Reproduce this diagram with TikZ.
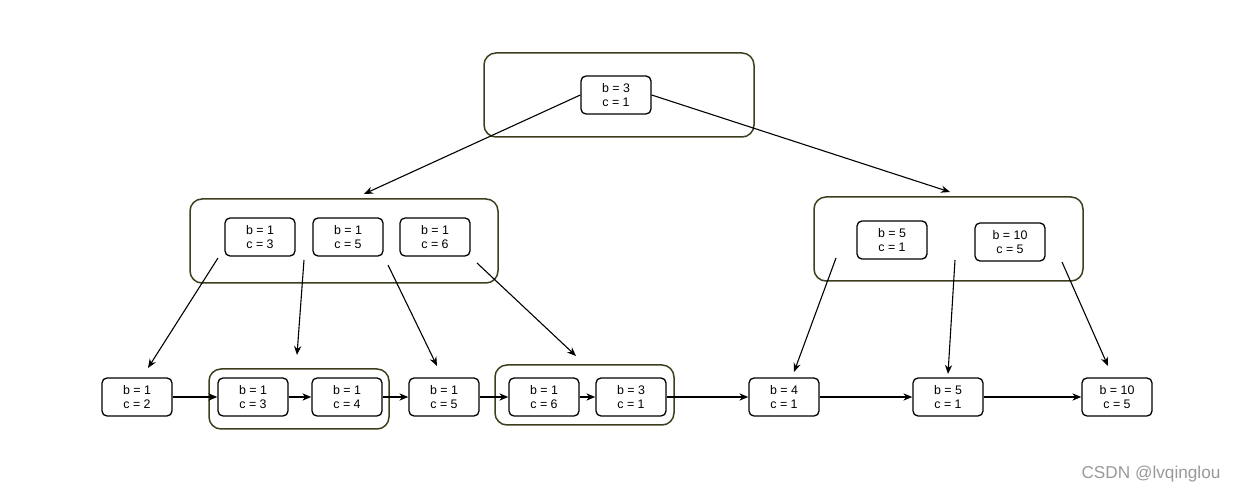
\documentclass[tikz,border=0pt]{standalone}
\usepackage{fontspec}
\setmainfont{Liberation Sans}
\usetikzlibrary{arrows.meta}
\definecolor{boxline}{RGB}{62,62,30}
\tikzset{
  key/.style={draw, line width=0.65pt, rounded corners=2.5pt, minimum width=35pt, minimum height=19pt,
    align=center, inner sep=0pt, font=\fontsize{6.2}{7.4}\selectfont},
  group/.style={draw=boxline, line width=0.75pt, rounded corners=6pt, inner sep=0pt},
  link/.style={-{Stealth[length=4.5pt,width=3.6pt]}, line width=0.55pt}
}
\begin{document}
\begin{tikzpicture}[x=0.5pt,y=-0.5pt]
\useasboundingbox (0,0) rectangle (1238,491);
% groups
\node[group, minimum width=135pt, minimum height=42pt] (top) at (619,95) {};
\node[group, minimum width=154pt, minimum height=42pt] (midL) at (344,241) {};
\node[group, minimum width=134.5pt, minimum height=42pt] (midR) at (948.5,239) {};
\node[group, minimum width=90pt, minimum height=30pt] (grpA) at (299,399) {};
\node[group, minimum width=89.5pt, minimum height=30pt] (grpB) at (584.5,395) {};
% keys
\node[key] (r) at (616,95) {b = 3\\c = 1};
\node[key] (l1) at (260,237) {b = 1\\c = 3};
\node[key] (l2) at (348,237) {b = 1\\c = 5};
\node[key] (l3) at (435,237) {b = 1\\c = 6};
\node[key] (m1) at (892,240) {b = 5\\c = 1};
\node[key] (m2) at (1010,242) {b = 10\\c = 5};
\node[key] (d1) at (137,397) {b = 1\\c = 2};
\node[key] (d2) at (253,397) {b = 1\\c = 3};
\node[key] (d3) at (347,397) {b = 1\\c = 4};
\node[key] (d4) at (444,397) {b = 1\\c = 5};
\node[key] (d5) at (544,397) {b = 1\\c = 6};
\node[key] (d6) at (631,397) {b = 3\\c = 1};
\node[key] (d7) at (784,397) {b = 4\\c = 1};
\node[key] (d8) at (948,397) {b = 5\\c = 1};
\node[key] (d9) at (1117,397) {b = 10\\c = 5};
% pointer ends
\coordinate (pL) at (364,194);
\coordinate (pR) at (950,192);
\coordinate (sL1) at (218,258);
\coordinate (sL2) at (304,260);
\coordinate (sL3) at (388,265);
\coordinate (sL4) at (477,263);
\coordinate (tL1) at (148,368);
\coordinate (tL2) at (297,355);
\coordinate (tL3) at (437,366);
\coordinate (tL4) at (576,356);
\coordinate (sR1) at (836,258);
\coordinate (sR2) at (955,260);
\coordinate (sR3) at (1062,262);
\coordinate (tR1) at (794,372);
\coordinate (tR2) at (948,374);
\coordinate (tR3) at (1108,366);
\draw[link] (r.west) -- (pL);
\draw[link] (r.east) -- (pR);
\draw[link] (sL1) -- (tL1);
\draw[link] (sL2) -- (tL2);
\draw[link] (sL3) -- (tL3);
\draw[link] (sL4) -- (tL4);
\draw[link] (sR1) -- (tR1);
\draw[link] (sR2) -- (tR2);
\draw[link] (sR3) -- (tR3);
% leaf chain
\draw[link] (d1) -- (d2);
\draw[link] (d2) -- (d3);
\draw[link] (d3) -- (d4);
\draw[link] (d4) -- (d5);
\draw[link] (d5) -- (d6);
\draw[link] (d6) -- (d7);
\draw[link] (d7) -- (d8);
\draw[link] (d8) -- (d9);
\node[text=gray!80, font=\fontsize{8.6}{10}\selectfont] (mark) at (1151,474) {CSDN @lvqinglou};
\end{tikzpicture}
\end{document}
